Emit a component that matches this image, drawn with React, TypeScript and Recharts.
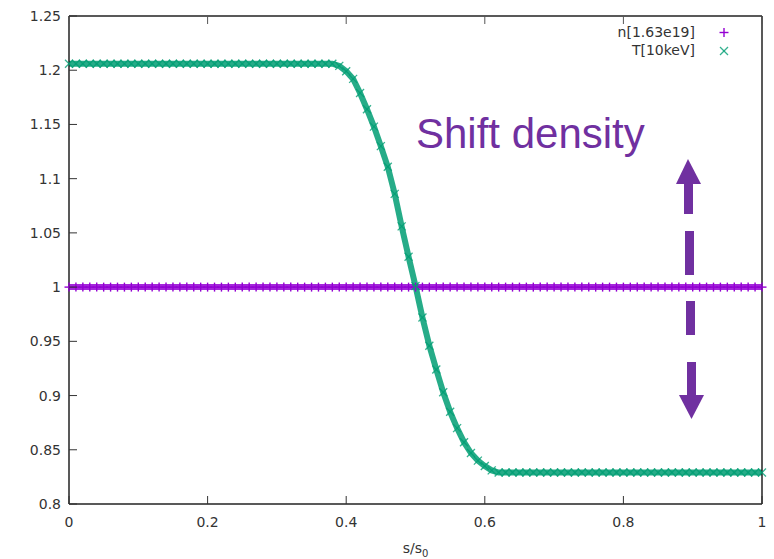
import { LineChart, Line, XAxis, YAxis, Legend } from 'recharts';

// s/s0 sample positions
const S = [
  0, 0.01, 0.02, 0.03, 0.04, 0.05, 0.06, 0.07, 0.08, 0.09,
  0.1, 0.11, 0.12, 0.13, 0.14, 0.15, 0.16, 0.17, 0.18, 0.19,
  0.2, 0.21, 0.22, 0.23, 0.24, 0.25, 0.26, 0.27, 0.28, 0.29,
  0.3, 0.31, 0.32, 0.33, 0.34, 0.35, 0.36, 0.37, 0.38, 0.39,
  0.4, 0.41, 0.42, 0.43, 0.44, 0.45, 0.46, 0.47, 0.48, 0.49,
  0.5, 0.51, 0.52, 0.53, 0.54, 0.55, 0.56, 0.57, 0.58, 0.59,
  0.6, 0.61, 0.62, 0.63, 0.64, 0.65, 0.66, 0.67, 0.68, 0.69,
  0.7, 0.71, 0.72, 0.73, 0.74, 0.75, 0.76, 0.77, 0.78, 0.79,
  0.8, 0.81, 0.82, 0.83, 0.84, 0.85, 0.86, 0.87, 0.88, 0.89,
  0.9, 0.91, 0.92, 0.93, 0.94, 0.95, 0.96, 0.97, 0.98, 0.99,
  1,
];

// n[1.63e19]
const N_VALUES = [
  1, 1, 1, 1, 1, 1, 1, 1, 1, 1,
  1, 1, 1, 1, 1, 1, 1, 1, 1, 1,
  1, 1, 1, 1, 1, 1, 1, 1, 1, 1,
  1, 1, 1, 1, 1, 1, 1, 1, 1, 1,
  1, 1, 1, 1, 1, 1, 1, 1, 1, 1,
  1, 1, 1, 1, 1, 1, 1, 1, 1, 1,
  1, 1, 1, 1, 1, 1, 1, 1, 1, 1,
  1, 1, 1, 1, 1, 1, 1, 1, 1, 1,
  1, 1, 1, 1, 1, 1, 1, 1, 1, 1,
  1, 1, 1, 1, 1, 1, 1, 1, 1, 1,
  1,
];

// T[10keV]
const T_VALUES = [
  1.206, 1.206, 1.206, 1.206, 1.206, 1.206, 1.206, 1.206, 1.206, 1.206,
  1.206, 1.206, 1.206, 1.206, 1.206, 1.206, 1.206, 1.206, 1.206, 1.206,
  1.206, 1.206, 1.206, 1.206, 1.206, 1.206, 1.206, 1.206, 1.206, 1.206,
  1.206, 1.206, 1.206, 1.206, 1.206, 1.206, 1.206, 1.206, 1.206, 1.204,
  1.199, 1.192, 1.179, 1.164, 1.148, 1.13, 1.111, 1.086, 1.056, 1.028,
  1.001, 0.972, 0.946, 0.924, 0.903, 0.885, 0.87, 0.857, 0.847, 0.84,
  0.835, 0.831, 0.829, 0.829, 0.829, 0.829, 0.829, 0.829, 0.829, 0.829,
  0.829, 0.829, 0.829, 0.829, 0.829, 0.829, 0.829, 0.829, 0.829, 0.829,
  0.829, 0.829, 0.829, 0.829, 0.829, 0.829, 0.829, 0.829, 0.829, 0.829,
  0.829, 0.829, 0.829, 0.829, 0.829, 0.829, 0.829, 0.829, 0.829, 0.829,
  0.829,
];

const X_TICKS = [0, 0.2, 0.4, 0.6, 0.8, 1];
const Y_TICKS = [0.8, 0.85, 0.9, 0.95, 1, 1.05, 1.1, 1.15, 1.2, 1.25];

const N_COLOR = '#9400d3';
const T_COLOR = '#009e73';
const NOTE_COLOR = '#7030a0';
const FONT = '"DejaVu Sans", sans-serif';
const TICK_LEN = 8;

const data = S.map((s, i) => ({ s, n: N_VALUES[i], T: T_VALUES[i] }));

const PlusDot = (props: any) => {
  const { cx, cy } = props;
  if (cx == null || cy == null) return null;
  const r = 4.5;
  return (
    <g stroke={N_COLOR} strokeWidth={1.4}>
      <line x1={cx - r} y1={cy} x2={cx + r} y2={cy} />
      <line x1={cx} y1={cy - r} x2={cx} y2={cy + r} />
    </g>
  );
};

const CrossDot = (props: any) => {
  const { cx, cy } = props;
  if (cx == null || cy == null) return null;
  const r = 4;
  return (
    <g stroke={T_COLOR} strokeWidth={1.3} strokeOpacity={0.8}>
      <line x1={cx - r} y1={cy - r} x2={cx + r} y2={cy + r} />
      <line x1={cx - r} y1={cy + r} x2={cx + r} y2={cy - r} />
    </g>
  );
};

const LeftTick = ({ x, y, payload }: any) => (
  <g>
    <line x1={x} y1={y} x2={x + TICK_LEN} y2={y} stroke="#333" strokeWidth={1} />
    <text x={x - 8} y={y} dy={5} textAnchor="end" fontSize={14} fontFamily={FONT} fill="#333">
      {payload.value}
    </text>
  </g>
);

const RightTick = ({ x, y }: any) => (
  <line x1={x - TICK_LEN} y1={y} x2={x} y2={y} stroke="#555" strokeWidth={1} />
);

const BottomTick = ({ x, y, payload }: any) => (
  <g>
    <line x1={x} y1={y} x2={x} y2={y - TICK_LEN} stroke="#333" strokeWidth={1} />
    <text x={x} y={y + 23} textAnchor="middle" fontSize={14} fontFamily={FONT} fill="#333">
      {payload.value}
    </text>
  </g>
);

const TopTick = ({ x, y }: any) => (
  <line x1={x} y1={y} x2={x} y2={y + TICK_LEN} stroke="#555" strokeWidth={1} />
);

const XLabel = ({ viewBox }: any) => {
  const cx = viewBox.x + viewBox.width / 2;
  return (
    <text x={cx} y={viewBox.y + 49} textAnchor="middle" fontSize={14} fontFamily={FONT} fill="#333">
      s/s
      <tspan fontSize={10} dy={4}>0</tspan>
    </text>
  );
};

const LegendBox = () => (
  <svg width={140} height={40}>
    <g fontSize={14} fontFamily={FONT} fill="#333" textAnchor="end">
      <text x={95} y={13}>n[1.63e19]</text>
      <text x={95} y={31}>T[10keV]</text>
    </g>
    <g stroke={N_COLOR} strokeWidth={1.4}>
      <line x1={119.5} y1={8.5} x2={128.5} y2={8.5} />
      <line x1={124} y1={4} x2={124} y2={13} />
    </g>
    <g stroke={T_COLOR} strokeWidth={1.3} strokeOpacity={0.8}>
      <line x1={120} y1={23} x2={128} y2={31} />
      <line x1={120} y1={31} x2={128} y2={23} />
    </g>
  </svg>
);

const Annotation = () => (
  <svg width={774} height={559} style={{ position: 'absolute', left: 0, top: 0, pointerEvents: 'none' }}>
    <text x={416} y={148} fontSize={42} fontFamily='"Liberation Sans", Arial, sans-serif' fill={NOTE_COLOR}>
      Shift density
    </text>
    <g fill={NOTE_COLOR}>
      <polygon points="688,159 676,184 701,184" />
      <rect x={684} y={183} width={9} height={31} />
      <rect x={685} y={231} width={9} height={44} />
      <rect x={686} y={301} width={9} height={34} />
      <rect x={687} y={362} width={9} height={34} />
      <polygon points="679,395 704,395 691.5,419" />
    </g>
  </svg>
);

export default function App() {
  return (
    <div style={{ position: 'absolute', left: 0, top: 0, width: 774, height: 559, background: '#fff' }}>
      <LineChart width={774} height={559} data={data} margin={{ top: 0, right: 0, bottom: 0, left: 0 }}>
        <XAxis
          xAxisId="bottom"
          dataKey="s"
          type="number"
          domain={[0, 1]}
          ticks={X_TICKS}
          height={55}
          tickSize={0}
          tickMargin={0}
          tickLine={false}
          tick={<BottomTick />}
          axisLine={{ stroke: '#222', strokeWidth: 1.5 }}
          label={<XLabel />}
        />
        <XAxis
          xAxisId="top"
          orientation="top"
          dataKey="s"
          type="number"
          domain={[0, 1]}
          ticks={X_TICKS}
          height={16}
          tickSize={0}
          tickMargin={0}
          tickLine={false}
          tick={<TopTick />}
          axisLine={{ stroke: '#222', strokeWidth: 1.5 }}
        />
        <YAxis
          yAxisId="left"
          type="number"
          domain={[0.8, 1.25]}
          ticks={Y_TICKS}
          width={69}
          tickSize={0}
          tickMargin={0}
          tickLine={false}
          tick={<LeftTick />}
          axisLine={{ stroke: '#222', strokeWidth: 1.5 }}
        />
        <YAxis
          yAxisId="right"
          orientation="right"
          type="number"
          domain={[0.8, 1.25]}
          ticks={Y_TICKS}
          width={12}
          tickSize={0}
          tickMargin={0}
          tickLine={false}
          tick={<RightTick />}
          axisLine={{ stroke: '#222', strokeWidth: 1.5 }}
        />
        <Legend
          layout="horizontal"
          verticalAlign="middle"
          align="center"
          content={<LegendBox />}
          wrapperStyle={{ position: 'absolute', left: 600, top: 24, width: 140, height: 40 }}
        />
        <Line
          xAxisId="bottom"
          yAxisId="left"
          dataKey="n"
          stroke={N_COLOR}
          strokeWidth={6}
          strokeOpacity={0.85}
          dot={<PlusDot />}
          activeDot={false}
          isAnimationActive={false}
        />
        <Line
          xAxisId="bottom"
          yAxisId="left"
          dataKey="T"
          stroke={T_COLOR}
          strokeWidth={6}
          strokeOpacity={0.85}
          dot={<CrossDot />}
          activeDot={false}
          isAnimationActive={false}
        />
      </LineChart>
      <Annotation />
    </div>
  );
}
